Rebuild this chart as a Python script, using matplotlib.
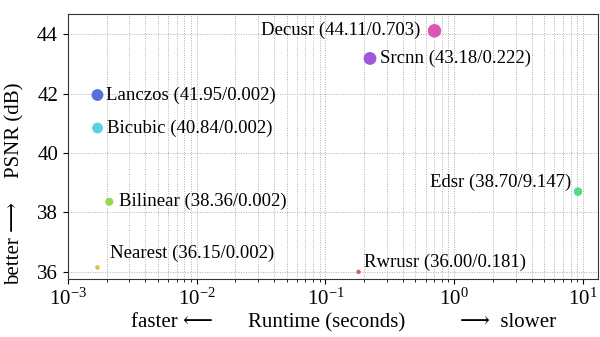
import matplotlib
matplotlib.use("Agg")
import matplotlib.pyplot as plt
import numpy as np
import seaborn as sns

plt.rcParams['font.family'] = ['Liberation Serif', 'DejaVu Serif']
plt.rcParams['mathtext.fontset'] = 'stix'

# methods, psnr (dB), runtime (s)
methods = ["Rwrusr", "Nearest", "Bilinear", "Edsr", "Bicubic", "Lanczos", "Srcnn", "Decusr"]
psnr = [36.00, 36.15, 38.36, 38.70, 40.84, 41.95, 43.18, 44.11]
runtime = [0.181, 0.0017, 0.0021, 9.147, 0.0017, 0.0017, 0.222, 0.703]
runtime_lbl = [0.181, 0.002, 0.002, 9.147, 0.002, 0.002, 0.222, 0.703]

# label offsets in points and horizontal alignment
offsets = {
    "Rwrusr": ((4, 7), "left"),
    "Nearest": ((9, 10), "left"),
    "Bilinear": ((7, 0), "left"),
    "Edsr": ((-5, 7), "right"),
    "Bicubic": ((7, 0), "left"),
    "Lanczos": ((6, 0), "left"),
    "Srcnn": ((7, 0), "left"),
    "Decusr": ((-10, 0), "right"),
}

colors = sns.color_palette("hls", len(methods))
p = np.array(psnr)
sizes = 10 + (p - p.min()) / (p.max() - p.min()) * 85

fig = plt.figure(figsize=(6, 3.37), dpi=100)
ax = fig.add_axes([0.113, 0.172, 0.884, 0.786])

ax.scatter(runtime, psnr, s=sizes, c=colors, zorder=3, linewidths=0)

for m, x, y, xl in zip(methods, runtime, psnr, runtime_lbl):
    off, ha = offsets[m]
    ax.annotate("%s (%.2f/%.3f)" % (m, y, xl), (x, y), xytext=off,
                textcoords="offset points", ha=ha, va="center", fontsize=13.5)

ax.set_xscale("log")
ax.set_xlim(1e-3, 10 ** 1.118)
ax.set_ylim(35.76, 44.67)
ax.set_yticks([36, 38, 40, 42, 44])
ax.grid(True, which="major", linestyle=(0, (1, 1.5)), color="#b0b0b0", linewidth=0.7)
ax.grid(True, which="minor", axis="x", linestyle=(0, (1, 1.5)), color="#b0b0b0", linewidth=0.7)
ax.tick_params(labelsize=15)
for s in ax.spines.values():
    s.set_color("#333333")

fig.text(0.025, 0.614, "PSNR (dB)", rotation=90, ha="center", va="center", fontsize=15)
fig.text(0.025, 0.276, "better \u27f6", rotation=90, ha="center", va="center", fontsize=15)
fig.text(0.287, 0.042, "faster \u27f5", ha="center", va="center", fontsize=15)
fig.text(0.544, 0.042, "Runtime (seconds)", ha="center", va="center", fontsize=15)
fig.text(0.847, 0.042, "\u27f6  slower", ha="center", va="center", fontsize=15)

fig.savefig("out.png", dpi=100)
